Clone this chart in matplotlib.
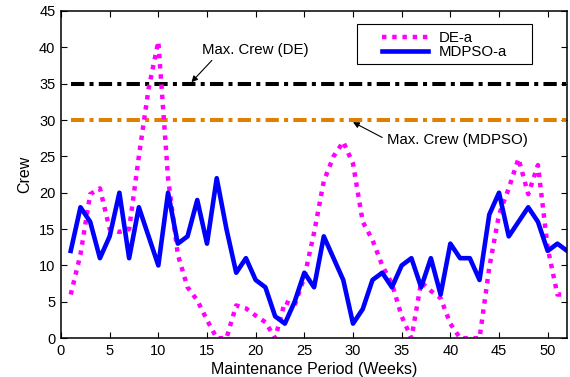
import numpy as np
import matplotlib.pyplot as plt
from matplotlib.patches import Rectangle

plt.rcParams['font.family'] = ['Liberation Sans', 'DejaVu Sans']

# weekly crew requirement
weeks = np.arange(1, 53)
de_a = [6, 11.5, 19.8, 20.6, 15, 14.6, 15, 25, 34.3, 40.8,
        22, 11.5, 7, 5.2, 2.5, 0, 0, 4.5, 4.1, 3.1,
        2.2, 0, 5, 4.5, 8.4, 14.5, 21.6, 25, 27, 24,
        16, 13.5, 10, 7.5, 3, 0, 7.7, 6.5, 5.5, 2,
        0, 0, 0, 9.7, 17, 20.6, 24.7, 19.8, 23.8, 12.4,
        6, 6]
mdpso_a = [12, 18, 16, 11, 14, 20, 11, 18, 14, 10,
           20, 13, 14, 19, 13, 22, 15, 9, 11, 8,
           7, 3, 2, 5, 9, 7, 14, 11, 8, 2,
           4, 8, 9, 7, 10, 11, 7, 11, 6, 13,
           11, 11, 8, 17, 20, 14, 16, 18, 16, 12,
           13, 12]
max_de = 35
max_mdpso = 30

fig = plt.figure(figsize=(5.7, 3.77), dpi=100)
ax = fig.add_axes([0.107, 0.103, 0.888, 0.868])

dashdot = (0, (3.3, 1.3, 1, 1.3))
ax.plot(weeks, [max_de] * len(weeks), color='black', lw=2.9, linestyle=dashdot)
ax.plot(weeks, [max_mdpso] * len(weeks), color='#e08000', lw=2.9, linestyle=dashdot)
ax.plot(weeks, de_a, color='#ff00ff', lw=3.2, linestyle=(0, (1, 1.3)), label='DE-a')
ax.plot(weeks, mdpso_a, color='#0000ff', lw=3.3, label='MDPSO-a')

arrow = dict(arrowstyle='-|>', color='black', lw=0.8, mutation_scale=9,
             shrinkA=0, shrinkB=0)
ax.text(14.5, 39.6, 'Max. Crew (DE)', fontsize=10.8, ha='left', va='center')
ax.annotate('', xy=(13.4, 35.2), xytext=(15.5, 38.2), arrowprops=arrow)
ax.text(33.5, 27.2, 'Max. Crew (MDPSO)', fontsize=10.8, ha='left', va='center')
ax.annotate('', xy=(30.0, 29.7), xytext=(33.0, 27.6), arrowprops=arrow)

ax.set_xlim(0, 52)
ax.set_ylim(0, 45)
ax.set_xticks(np.arange(0, 51, 5))
ax.set_yticks(np.arange(0, 46, 5))
ax.tick_params(direction='in', top=True, right=True, labelsize=10.5,
               length=4, pad=4)
for s in ax.spines.values():
    s.set_linewidth(1.1)

ax.set_xlabel('Maintenance Period (Weeks)', fontsize=11.5, labelpad=3)
ax.set_ylabel('Crew', fontsize=11.5, labelpad=5)

# legend box (MATLAB style, wide left margin)
ax.add_patch(Rectangle((0.585, 0.838), 0.346, 0.122, transform=ax.transAxes,
                       facecolor='white', edgecolor='black', lw=0.8, zorder=4))
leg = ax.legend(loc='upper left', bbox_to_anchor=(0.61, 0.975), fontsize=10.8,
                frameon=False, handlelength=3.1, handletextpad=0.7,
                labelspacing=0.0, borderpad=0.3)
leg.set_zorder(5)

fig.savefig('out.png', dpi=100)
